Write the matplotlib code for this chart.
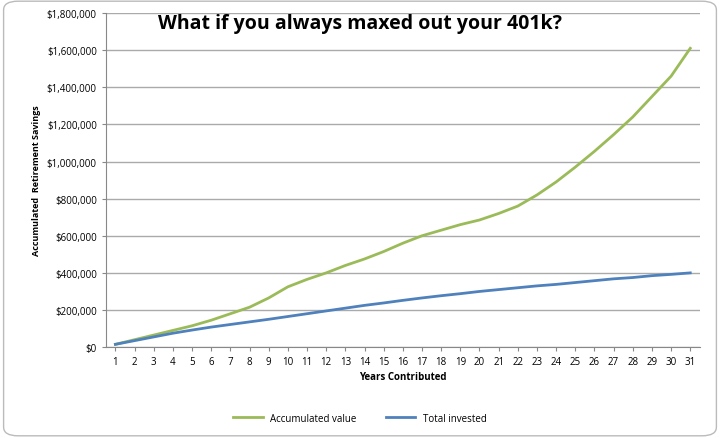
import matplotlib
matplotlib.use("Agg")
import matplotlib.pyplot as plt
from matplotlib.ticker import FuncFormatter

years = list(range(1, 32))
accumulated = [15e3, 40e3, 65e3, 90e3, 115e3, 145e3, 180e3, 215e3, 265e3, 325e3, 365e3, 400e3,
               440e3, 475e3, 515e3, 560e3, 600e3, 630e3, 660e3, 685e3, 720e3, 760e3, 820e3,
               890e3, 970e3, 1055e3, 1145e3, 1240e3, 1350e3, 1460e3, 1610e3]
invested = [15e3, 35e3, 55e3, 75e3, 92e3, 108e3, 122e3, 136e3, 150e3, 165e3, 180e3, 195e3,
            210e3, 225e3, 238e3, 252e3, 265e3, 277e3, 288e3, 300e3, 310e3, 320e3, 330e3,
            338e3, 348e3, 358e3, 368e3, 375e3, 385e3, 392e3, 400e3]

plt.rcParams['font.family'] = ['Open Sans', 'DejaVu Sans']
fig = plt.figure(figsize=(7.2, 4.39), dpi=100)
ax = fig.add_axes([0.147, 0.207, 0.825, 0.761])
ax.plot(years, accumulated, color='#9bbb59', lw=2, label='Accumulated value')
ax.plot(years, invested, color='#4f81bd', lw=2, label='Total invested')
ax.set_xlim(0.5, 31.5)
ax.set_ylim(0, 1.8e6)
ax.set_yticks([i * 2e5 for i in range(10)])
ax.yaxis.set_major_formatter(FuncFormatter(lambda v, p: f"${v:,.0f}"))
ax.set_xticks(years)
ax.tick_params(axis='both', labelsize=7, length=3, color='#888888')
ax.grid(axis='y', color='#aaaaaa', lw=1)
ax.set_axisbelow(True)
for s in ['top', 'right']:
    ax.spines[s].set_visible(False)
for s in ['left', 'bottom']:
    ax.spines[s].set_color('#888888')
ax.set_xlabel('Years Contributed', fontsize=7, fontweight='bold', labelpad=3)
ax.set_ylabel('Accumulated  Retirement Savings', fontsize=6.5, fontweight='bold', labelpad=4)
fig.text(0.5, 0.945, 'What if you always maxed out your 401k?', ha='center', va='center',
         fontsize=14, fontweight='bold')
fig.legend(loc='center', bbox_to_anchor=(0.5, 0.045), ncol=2, frameon=False, fontsize=7,
           handlelength=3, columnspacing=3)
fig.patches.append(matplotlib.patches.FancyBboxPatch((0.005, 0.005), 0.99, 0.99,
    boxstyle='round,pad=0,rounding_size=0.02', transform=fig.transFigure,
    fill=False, edgecolor='#bbbbbb', lw=1))
fig.savefig('out.png', dpi=100)
